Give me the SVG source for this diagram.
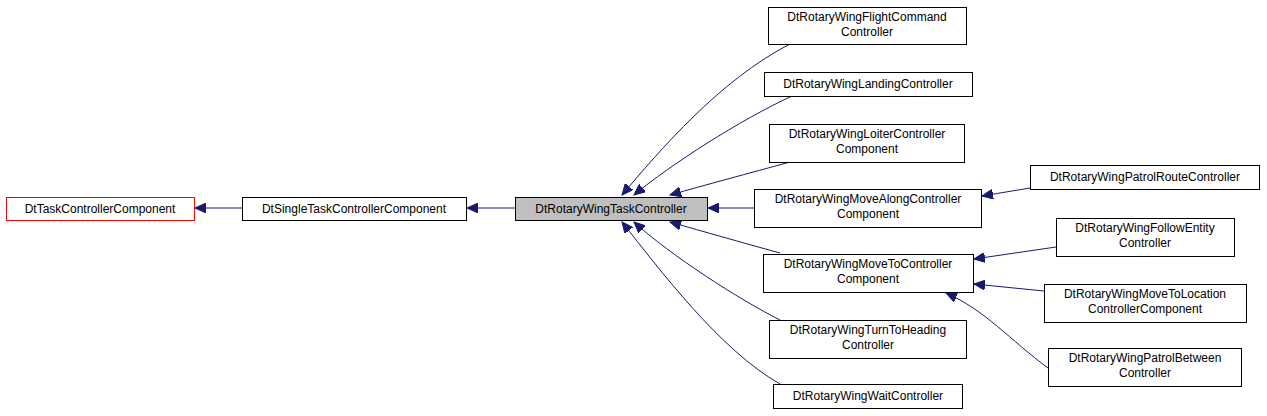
<svg xmlns="http://www.w3.org/2000/svg" width="1267" height="416" viewBox="0 0 1267 416">
<style>
.n rect{fill:#fff;stroke:#000;stroke-width:1}
.n text{font-family:"Liberation Sans",Arial,sans-serif;font-size:12px;text-anchor:middle;fill:#000}
.e path{fill:none;stroke:#191970;stroke-width:1;marker-end:url(#a)}
</style>
<defs><marker id="a" markerWidth="12" markerHeight="10" refX="11" refY="5" orient="auto" markerUnits="userSpaceOnUse"><path d="M0,0 L11,5 L0,10 Z" fill="#191970" stroke="#191970"/></marker></defs>
<rect width="1267" height="416" fill="#fff"/>
<g class="e" id="edges">
<path d="M242,208 H195"/>
<path d="M515,208 H467"/>
<path d="M754,208 H708"/>
<path d="M790,44 C720,80 660,150 622,195"/>
<path d="M792,96 C740,120 670,165 634,195"/>
<path d="M790,162 C750,173 705,185 670,195"/>
<path d="M780,253 C740,242 705,232 670,222"/>
<path d="M780,320 C740,300 670,255 634,222"/>
<path d="M780,384 C720,350 660,270 622,222"/>
<path d="M1030,188 L982,196"/>
<path d="M1056,247 L974,259"/>
<path d="M1044,291 L974,284"/>
<path d="M1048,368 C1010,340 985,310 946,293"/>
</g>
<g class="n" id="n1"><rect x="6.5" y="197.5" width="188" height="23" style="stroke:#f00"/><text x="100" y="213">DtTaskControllerComponent</text></g>
<g class="n" id="n2"><rect x="242.5" y="197.5" width="224" height="23"/><text x="354" y="213">DtSingleTaskControllerComponent</text></g>
<g class="n" id="n3"><rect x="515.5" y="197.5" width="192" height="23" style="fill:#bfbfbf"/><text x="611" y="213">DtRotaryWingTaskController</text></g>
<g class="n" id="n4"><rect x="768.5" y="7.5" width="198" height="37"/><text x="867" y="21">DtRotaryWingFlightCommand</text><text x="867" y="36">Controller</text></g>
<g class="n" id="n5"><rect x="764.5" y="72.5" width="208" height="24"/><text x="868" y="88">DtRotaryWingLandingController</text></g>
<g class="n" id="n6"><rect x="769.5" y="124.5" width="195" height="38"/><text x="867" y="138">DtRotaryWingLoiterController</text><text x="867" y="153">Component</text></g>
<g class="n" id="n7"><rect x="754.5" y="189.5" width="227" height="38"/><text x="868" y="203">DtRotaryWingMoveAlongController</text><text x="868" y="218">Component</text></g>
<g class="n" id="n8"><rect x="763.5" y="254.5" width="210" height="38"/><text x="868" y="268">DtRotaryWingMoveToController</text><text x="868" y="283">Component</text></g>
<g class="n" id="n9"><rect x="769.5" y="320.5" width="197" height="38"/><text x="868" y="334">DtRotaryWingTurnToHeading</text><text x="868" y="349">Controller</text></g>
<g class="n" id="n10"><rect x="773.5" y="384.5" width="189" height="24"/><text x="868" y="400">DtRotaryWingWaitController</text></g>
<g class="n" id="n11"><rect x="1030.5" y="165.5" width="229" height="24"/><text x="1145" y="181">DtRotaryWingPatrolRouteController</text></g>
<g class="n" id="n12"><rect x="1056.5" y="218.5" width="178" height="38"/><text x="1145" y="232">DtRotaryWingFollowEntity</text><text x="1145" y="247">Controller</text></g>
<g class="n" id="n13"><rect x="1044.5" y="284.5" width="202" height="38"/><text x="1145" y="298">DtRotaryWingMoveToLocation</text><text x="1145" y="313">ControllerComponent</text></g>
<g class="n" id="n14"><rect x="1048.5" y="348.5" width="193" height="38"/><text x="1145" y="362">DtRotaryWingPatrolBetween</text><text x="1145" y="377">Controller</text></g>
</svg>
